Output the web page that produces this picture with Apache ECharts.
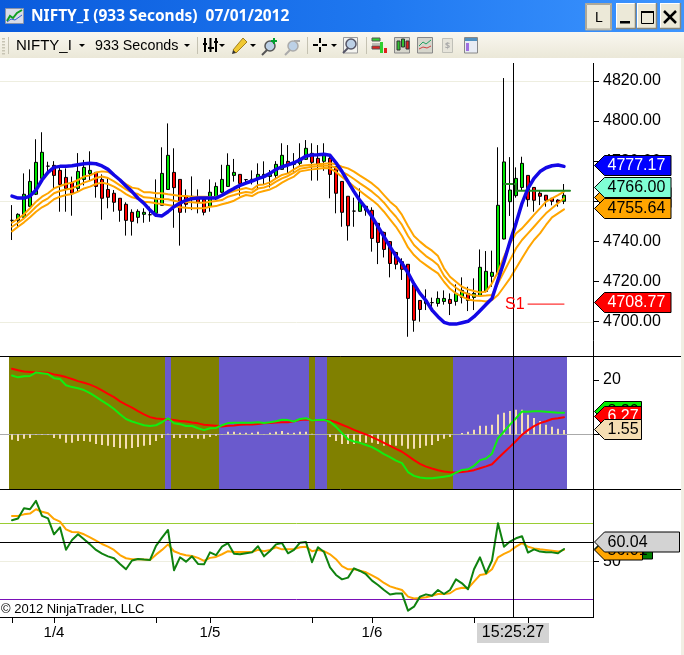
<!DOCTYPE html>
<html><head><meta charset="utf-8">
<style>html,body{margin:0;padding:0;background:#fff}#c{width:684px;height:655px}</style>
<script src="https://cdn.jsdelivr.net/npm/echarts@6/dist/echarts.min.js"></script>
</head><body><div id="c"></div>
<script>
const opens=[4750.5,4750.5,4752,4757.5,4763.5,4771.4,4777.5,4777.9,4775.4,4771.9,4769.4,4766.4,4770.9,4773.8,4774.4,4770.9,4765.9,4764,4761.5,4758.5,4754.5,4752,4753.5,4753.3,4754,4758,4765.9,4774.4,4770.9,4762.5,4761.5,4761.5,4761,4757.5,4762,4764.5,4767.4,4772.9,4773.4,4770.8,4770.9,4771.4,4772.3,4772.4,4772.9,4775.9,4779.9,4778.4,4778.9,4780.9,4783.9,4781.4,4779.9,4781.4,4777.2,4769.9,4762.5,4755.1,4755,4757.5,4755.5,4749,4744.5,4739.9,4734.5,4729.9,4728.6,4718.3,4710.6,4709.1,4709.5,4709.1,4710.1,4711.1,4710.1,4712.1,4714.1,4712.1,4713.1,4715.1,4722.6,4723.8,4741.2,4759.8,4762.8,4766.9,4772.9,4766.9,4764,4763,4761.5,4760.6,4760];
const closes=[4750.5,4753.5,4763.5,4769.9,4779.4,4784.4,4777.5,4772.9,4768.4,4766.4,4764,4774.9,4776.9,4775.4,4767.4,4761.5,4762,4759.5,4755.5,4750.5,4750,4755,4754.5,4753.3,4761.5,4773.9,4782.9,4766.8,4754.5,4758.5,4762.5,4759.5,4754.5,4764.5,4767.4,4770.9,4777.9,4774.4,4768.9,4770.8,4770.9,4773.4,4773.4,4773.4,4778.4,4782.9,4777.9,4779.4,4781.4,4786.4,4779.4,4778.4,4782.9,4773.4,4764,4754.5,4747.8,4755.1,4760,4755.5,4741.5,4739.5,4736,4729,4728.6,4726.1,4711.6,4700.7,4706.1,4710.6,4709.5,4711.6,4711.6,4709.1,4714.1,4715.6,4710.6,4714.1,4727.1,4725.1,4724.6,4758,4779.6,4765.6,4771.4,4778.9,4760.8,4760.5,4762.5,4760.5,4760,4759.5,4763];
const lows=[4740.7,4747.3,4751.5,4757.3,4763.1,4771.1,4774.8,4766.1,4754.8,4754.8,4752.8,4765.1,4767.9,4770.3,4761.8,4750.8,4756.5,4754.8,4749.8,4742.9,4742.9,4749,4749.3,4749.8,4753.7,4758,4765.9,4746.8,4737.9,4754.3,4755.6,4754,4753,4754.8,4760.6,4764,4767.3,4769.8,4762.8,4768.9,4768.4,4765.6,4768.1,4766.9,4771.4,4775.9,4773.9,4774.8,4777.2,4780.6,4770.3,4770.3,4775.2,4761.5,4754,4747.3,4740.4,4747.3,4754.8,4752.8,4734.9,4728.7,4732,4722.1,4726.1,4720.8,4692.5,4695,4700,4705.8,4705,4707.5,4708.5,4703.3,4708,4709.1,4705.3,4705.8,4712.8,4714.6,4717.4,4723.8,4741,4752.7,4761.8,4765.3,4757.3,4754.8,4758.1,4757.3,4758,4757.3,4758.6];
const highs=[4758.1,4754,4773.9,4775.9,4790.9,4794.4,4779.7,4780,4777.2,4776.4,4772.3,4784,4780.6,4784.9,4774.4,4773.4,4771.4,4765.6,4761.5,4759.5,4756,4756,4756.5,4757.3,4770.9,4786.9,4798.8,4786.4,4770.9,4765.9,4772.4,4765.9,4762,4770.9,4769.4,4778.2,4783.9,4781.1,4773.4,4770.9,4775.4,4778.9,4779.9,4775.6,4780,4788.9,4788,4784,4788.9,4790.5,4788.9,4788,4788.9,4783.4,4777.2,4769.9,4762.5,4761.8,4766.4,4757.6,4757,4749,4744.9,4740.2,4734.9,4731.6,4728.6,4719.1,4710.8,4716.1,4712,4715.1,4715.6,4714.1,4718.6,4722.1,4717.4,4721.6,4736,4735.2,4735.4,4786.9,4821.4,4782,4776.9,4782.2,4772.9,4766.9,4765.6,4763.1,4761.6,4761,4768.6];
const blueLine=[4762.6,4761.6,4761.6,4762.6,4765.6,4770.6,4774.4,4776.9,4777.4,4777.4,4777.7,4778.2,4778.7,4778.9,4778.7,4777.6,4775.9,4773.1,4770.6,4767.6,4764.8,4761.5,4759,4755.6,4753,4752.7,4754.8,4757.3,4759.1,4760.5,4761.3,4761.6,4761.6,4761.6,4761.6,4763,4764.8,4766.4,4767.9,4769.1,4770.1,4771.3,4772.3,4773.9,4775.9,4777.2,4778.1,4779.2,4780.6,4782.6,4783.1,4783.2,4783.4,4782.9,4779.2,4774.8,4769.8,4764.8,4760.3,4756.5,4752.3,4747.3,4742.4,4737.4,4732.7,4729.1,4724.4,4718.8,4714.1,4710.5,4705.8,4702.5,4699.7,4698.8,4698.8,4699.5,4700.2,4702.5,4705.5,4708.6,4711.6,4720.8,4729.9,4739.9,4749,4759,4766.4,4771.4,4774.8,4776.7,4777.7,4778.1,4777.4];
const orangeTop=[4749.3,4751.3,4753.5,4756.5,4759.8,4762.3,4764,4766.4,4767.6,4768.6,4769.3,4770.6,4772.3,4772.9,4774.3,4774.9,4774.6,4772.9,4770.6,4768.6,4766.8,4766.3,4764.5,4764.5,4764,4764,4763.5,4763.1,4762.6,4762.6,4762.3,4762.3,4762.3,4762.1,4762.1,4762.8,4764,4765.1,4765.9,4766.6,4765.8,4768.1,4768.4,4769.4,4771.4,4773.1,4773.9,4775.9,4777.6,4777.9,4778.2,4778.4,4778.7,4778.9,4778.4,4777.2,4776.4,4774.8,4772.8,4770.9,4768.9,4766.4,4763.1,4759.8,4757.3,4753.2,4747.7,4742.7,4739.9,4737.4,4735.4,4732.7,4726.6,4722.4,4719.9,4717.4,4716.1,4715.3,4714.6,4715.1,4719.1,4724.9,4732.4,4739,4744,4746.5,4749.8,4753.2,4756.5,4759.8,4761.5,4763.1,4764.8];
const orangeMid=[4747.3,4749.3,4751.5,4754.3,4757.3,4759.8,4761.5,4764,4765.1,4765.9,4766.4,4767.8,4769.3,4770.3,4771.6,4772.3,4771.6,4769.9,4767.9,4765.9,4764.3,4763.6,4762,4761.8,4761.3,4761.1,4761,4760.3,4759.6,4759.6,4759.5,4759.3,4759.3,4759.8,4760.1,4760.6,4762.3,4763.1,4764,4764.6,4764.3,4766.4,4766.9,4767.9,4769.8,4771.4,4772.6,4774.3,4776.2,4776.7,4777.2,4777.4,4777.7,4777.7,4776.7,4774.6,4773.1,4771.1,4768.9,4766.9,4764.8,4762.3,4759.3,4755.6,4752.3,4748.2,4742.7,4738.2,4735.4,4732.7,4730.7,4728.2,4722.9,4719.4,4716.9,4714.9,4713.8,4713,4712.8,4713,4713.3,4719.1,4724.9,4730.7,4736.5,4740.7,4744,4747.3,4750.7,4754,4756.5,4759,4761.5];
const orangeBot=[4745,4747.3,4749.5,4752,4754.8,4757,4758.6,4761,4762.3,4763.1,4763.6,4764.8,4766.4,4767.3,4768.6,4769.3,4768.6,4767.3,4765.6,4763.6,4762,4761.3,4759.8,4759.5,4759,4758.6,4758.1,4757.6,4757,4756.8,4756.5,4756.5,4756.5,4757.3,4757.6,4758.5,4759.3,4760.3,4762,4763.1,4762.6,4764.3,4765.1,4765.9,4767.3,4769.3,4770.9,4772.3,4774.9,4775.4,4775.9,4776.2,4776.6,4776.4,4774.6,4772.1,4769.8,4767.3,4765.1,4762.8,4760.6,4758.1,4754.8,4751,4747.3,4742.7,4737,4733.2,4730.4,4728.2,4726.1,4724.1,4719.9,4716.4,4714.1,4712.5,4711.1,4710.6,4710.5,4710.1,4710.8,4713.3,4717.4,4721.6,4726.6,4731.6,4736.5,4740.7,4744,4748.2,4752,4754,4756];
const levelR=[4768.6,4768.6,4765.2,4765.2,4765.2,4765.2,4765.2,4765.2,4765.2,4765.2,4765.2];
const levelS=[4708.77,4708.77,4708.77,4708.77,4708.77,4708.77,4708.77];
const macdBands=[0,0,0,0,0,0,0,0,0,0,0,0,0,0,0,0,0,0,0,0,0,0,0,0,0,0,1,0,0,0,0,0,0,0,0,1,1,1,1,1,1,1,1,1,1,1,1,1,1,1,0,1,1,0,0,0,0,0,0,0,0,0,0,0,0,0,0,0,0,0,0,0,0,0,1,1,1,1,1,1,1,1,1,1,1,1,1,1,1,1,1,1,1];
const macdHist=[-2.1,-2.5,-1.7,-1.4,-0.25,-0.2,-0.2,-1.4,-1.7,-3.2,-3.2,-2.5,-2.5,-2.8,-3.6,-4,-4.3,-4.7,-5.1,-5.4,-5.1,-4.7,-4.3,-4,-2.5,-1.4,0.2,-1.4,-1.4,-1.4,-1.4,-1.7,-1.7,-1,-0.6,-0.1,0.9,0.9,0.5,0.5,0.5,0.9,0.1,0.5,0.9,1.2,0.5,0.5,0.9,0.9,0.2,0,0,-1,-2.5,-3.6,-3.6,-3.6,-3.2,-3.2,-3.2,-3.6,-4.3,-4,-4.3,-4.3,-5.4,-5.4,-5.1,-4.3,-4,-2.5,-1.7,-1,0,0.4,0.9,1.6,3.1,3.1,3.5,7.3,7.9,8.6,9,9,7.2,6,4.9,3.5,2.7,2,1.55];
const macdFast=[21.7,21,21.4,21.5,22.8,22.5,22.2,20.7,20.4,18.1,17.4,17,16.3,15.2,13.8,12.3,10.9,9.3,7.4,5.6,4.7,4,3.3,3,3.3,4.4,5.9,4,3.7,3,3,2.2,1.5,2.2,2.3,3.3,4.1,4.2,4.2,4.2,4.2,4.4,4.1,4.4,4.8,5.3,5.2,4.7,5.6,5.9,5.1,5.2,5.3,4.6,2.7,0.4,-1.9,-2.7,-3.2,-4,-4.8,-6,-7.4,-8.5,-9.8,-10.7,-14,-15.4,-16,-16.3,-16.3,-16,-15.7,-15.4,-14.2,-13.2,-13,-11.7,-9.6,-9,-7.2,-1.5,1,3.5,5.9,8.4,8.3,8.5,8.5,8.3,8.1,7.9,7.9];
const macdSlow=[24.2,23.6,23.2,23,22.8,22.8,22.7,22.1,21.7,21.1,20.4,19.6,19,18.3,17.4,16.2,14.9,13.7,12.1,10.9,9.8,8.5,7.3,6.3,5.8,5.6,5.4,5.2,4.9,4.7,4.3,4,3.5,3.3,3.1,2.8,3.1,3.2,3.5,3.6,3.6,3.8,4,4.1,4.3,4.4,4.4,4.8,5.2,5.4,5.2,5.1,5.2,5.1,4.4,3.5,2.6,1.6,0.7,-0.1,-1.1,-2.1,-3.2,-4.3,-5.4,-6.5,-8,-9.6,-11,-12,-12.7,-13.3,-13.8,-14.1,-14.2,-14,-13.7,-13.3,-12.6,-11.9,-11.1,-8.9,-6.8,-4.7,-2.5,-0.2,1.5,3,4.1,4.8,5.6,5.9,6.27];
const rsiLine=[71.6,72.5,77.9,77.4,81.8,73.9,72.6,64.2,67.9,56.1,61.2,64.2,61.6,58.9,56,54,52.6,51.6,48.6,45.8,50.4,51.2,50.9,50.7,58.1,62.5,66.5,45.3,52.1,49.8,52.6,48.6,48.4,54.7,53.2,57.7,59.5,54,53.7,54.2,54.7,57.9,52.6,55.4,58.9,59.6,54.2,56,59.8,60.2,49.5,57.4,54.9,46.8,42.8,40.5,41.4,46.3,44.9,43.2,39.8,37.5,34.9,32.5,33,33,24,26.1,31.4,32.6,31.9,34.9,32.8,34.9,40.5,38.4,35.3,45.8,52.1,43.7,50.4,70,57.7,60.4,62.1,63.2,54.6,56.3,55.1,54.7,54.7,54.2,56.5];
const rsiAvg=[73.9,73.9,74.7,75.1,77.4,76.1,75.3,72.3,70.9,66.8,65.4,65.3,64.2,62.6,60.9,59.1,57.7,56,53.3,51.6,51.1,51.1,50.9,50.7,53.5,56,58.9,55.3,54,53.2,52.8,51.8,50.2,51.8,52.3,53.7,55.3,54.9,54.9,54.9,54.9,56,55.3,56,57.4,56.3,56.3,56.5,57.4,57.7,55.3,56,55.4,53.7,51.1,47.5,45.8,45.8,45.1,44.2,42.6,40.9,38.6,36.8,35.8,34.9,31.4,30.4,30.7,31.1,31.9,32.8,32.8,33.2,35.3,36.1,35.8,39.3,42.8,43.3,45.8,52.1,53.9,55.4,57.7,59.5,57.7,56.8,56.3,56,55.6,55.1,56];
const priceTicks=[4700,4720,4740,4760,4780,4800,4820];
const priceGrid=[4700,4760,4820];
const macdTicks=[0,20];
const rsiTicks=[50];
const rsiLevels=[[70,'#9acd32'],[50,'#eeeee0'],[30,'#7a0fb8']];
const timeTicks=[0,7,24,33,50,60,77,86];
const dayLabels={7:'1/4',33:'1/5',60:'1/6'};
const priceTags=[[4761,'4761.34','#ffa500','#000'],[4777.17,'4777.17','#0000ff','#fff'],[4755.64,'4755.64','#ffa500','#000'],[4766,'4766.00','#7fffd4','#000'],[4708.77,'4708.77','#ff0000','#fff']];
const macdTags=[[8.2,'8.20','#00ee00','#000'],[6.27,'6.27','#ff0000','#fff'],[1.55,'1.55','#f5deb3','#000']];
const rsiTags=[[56.5,'56.47','#008000','#fff',58],[56,'56.01','#ffa500','#000',48],[60.04,'60.04','#d3d3d3','#000',85]];
const crossIdx=[83,84], crossRsi=60.04, crossTime='15:25:27';

const PAD=1, TAIL=4, N=PAD+opens.length+TAIL;
const cats=Array.from({length:N},(_,k)=>String(k));
const pad=a=>[...Array(PAD).fill(null),...a,...Array(TAIL).fill(null)];
const from=(start,a)=>{const o=Array(N).fill(null);a.forEach((v,k)=>o[PAD+start+k]=v);return o;};
const EMPTY=['-','-','-','-'];
const ohlc=[...Array(PAD).fill(EMPTY),...opens.map((o,i)=>[o,closes[i],lows[i],highs[i]]),...Array(TAIL).fill(EMPTY)];
const FONT='"Liberation Sans",Arial,sans-serif';
const line=(name,data,color,width,x,y,z,extra)=>Object.assign({name,type:'line',data,xAxisIndex:x,yAxisIndex:y,symbol:'none',showSymbol:false,silent:true,z:z||3,lineStyle:{color,width,cap:'round',join:'round'},animation:false},extra||{});
const hideX=g=>({type:'category',gridIndex:g,data:cats,show:false,boundaryGap:true});
const yA=(g,min,max,ticks,fmt)=>({type:'value',gridIndex:g,min,max,position:'right',offset:2,splitLine:{show:false},axisLine:{show:false},axisTick:{show:true,length:6,lineStyle:{color:'#000'},customValues:ticks},axisLabel:{show:true,margin:10,color:'#000',fontSize:16,fontFamily:FONT,customValues:ticks,formatter:fmt}});

const chart=echarts.init(document.getElementById('c'),null,{renderer:'canvas'});
chart.setOption({
 animation:false,backgroundColor:'#fff',
 grid:[{left:3,width:588,top:63,height:293},{left:3,width:588,top:356,height:133},{left:3,width:588,top:489,height:128}],
 xAxis:[hideX(0),hideX(1),{type:'category',gridIndex:2,data:cats,boundaryGap:true,axisLine:{show:false},
  axisTick:{show:true,alignWithLabel:true,length:6,lineStyle:{color:'#000'},interval:i=>timeTicks.includes(i-PAD)},
  axisLabel:{show:true,interval:i=>(i-PAD) in dayLabels,formatter:(v,i)=>dayLabels[Number(v)-PAD]||'',margin:8,fontSize:15,color:'#000',fontFamily:FONT}}],
 yAxis:[yA(0,4682.91,4828.9,priceTicks,v=>v.toFixed(2)),yA(1,-20.26,28.89,macdTicks,v=>String(v)),
  {type:'value',gridIndex:1,min:0,max:1,show:false},yA(2,20.68,88.05,rsiTicks,v=>String(v))],
 series:[
  {name:'Price',type:'candlestick',data:ohlc,xAxisIndex:0,yAxisIndex:0,barWidth:4,silent:true,z:2,
   itemStyle:{color:'#00e600',color0:'#ff0000',borderColor:'#000',borderColor0:'#000',borderColorDoji:'#000',borderWidth:1}},
  line('Band top',pad(orangeTop),'#ffa500',2,0,0,3),
  line('Band mid',pad(orangeMid),'#ffa500',2,0,0,3),
  line('Band bottom',pad(orangeBot),'#ffa500',2,0,0,3),
  line('R1',from(82,levelR),'#228b22',2,0,0,3,{step:'end'}),
  line('S1',from(86,levelS),'#ff0000',1,0,0,3),
  line('Blue MA',pad(blueLine),'#1408e6',3.5,0,0,4),
  {name:'Trend',type:'custom',xAxisIndex:1,yAxisIndex:2,z:0,silent:true,clip:true,
   data:macdBands.map((b,i)=>[i+PAD,b]),encode:{x:0,y:-1},
   renderItem:(p,api)=>{const xi=api.value(0),c=api.coord([xi,1]),b=api.coord([xi,0]),w=api.size([1,0])[0];
     return {type:'rect',shape:{x:c[0]-w/2,y:c[1],width:w,height:b[1]-c[1]},style:{fill:api.value(1)?'#6a5acd':'#808000'}};}},
  {name:'Hist',type:'bar',data:pad(macdHist),xAxisIndex:1,yAxisIndex:1,barWidth:2,silent:true,z:3,itemStyle:{color:'#f5deb3'}},
  line('Slow',pad(macdSlow),'#ff0000',2,1,1,4),
  line('Fast',pad(macdFast),'#10ee10',2,1,1,5),
  line('RSI avg',pad(rsiAvg),'#ffa500',2,2,3,3),
  line('RSI',pad(rsiLine),'#0f820f',2,2,3,4)
 ]});

const yPx=(k,v)=>chart.convertToPixel({yAxisIndex:k},v);
const xPx=i=>chart.convertToPixel({xAxisIndex:0},PAD+i);
const rect=(x,y,w,h,fill,z,stroke)=>({type:'rect',silent:true,z:z||60,shape:{x,y,width:w,height:h},style:{fill:fill,stroke:stroke||null,lineWidth:1}});
const seg=(x1,y1,x2,y2,c,z,lw)=>({type:'line',silent:true,z:z||60,shape:{x1,y1,x2,y2},style:{stroke:c,lineWidth:lw||1}});
const poly=(pts,c,lw,z)=>({type:'polyline',silent:true,z:z||61,shape:{points:pts},style:{stroke:c,lineWidth:lw||1,fill:null}});
const pgon=(pts,f,z,st)=>({type:'polygon',silent:true,z:z||61,shape:{points:pts},style:{fill:f,stroke:st||null,lineWidth:1}});
const txt=(t,x,y,fs,c,o)=>Object.assign({type:'text',silent:true,z:62,x,y,style:Object.assign({text:t,fontSize:fs,fill:c,fontFamily:FONT,textVerticalAlign:'middle',textBaseline:'middle',textAlign:'left'},o||{})},{});
const snap=v=>Math.round(v)+0.5;
const G=[];
priceGrid.forEach(v=>{const y=snap(yPx(0,v));G.push(seg(0,y,593,y,'#eeeee0',1));});
const zy=snap(yPx(1,0));G.push(seg(0,zy,593,zy,'#aaaaaa',2));
rsiLevels.forEach(([v,c])=>{const y=snap(yPx(3,v));G.push(seg(0,y,593,y,c,1));});
const xc=(xPx(crossIdx[0])+xPx(crossIdx[1]))/2, cx=Math.round(xc)+0.5;
const ry=snap(yPx(3,crossRsi));G.push(seg(0,ry,593,ry,'#000',20));
G.push(seg(cx,63,cx,617,'#000',20));
G.push(txt('S1',xPx(86)-23,yPx(0,levelS[0]),16,'#ff0000'));
G.push(seg(593.5,63,593.5,617.5,'#000',30));
G.push(seg(0,356.5,681,356.5,'#000',30));
G.push(seg(0,489.5,681,489.5,'#000',30));
G.push(seg(0,617.5,594,617.5,'#000',30));
const tag=(py,t,f,tc,w,z)=>{const L=594.5,R=L+w,c=py;
  G.push(pgon([[L,c],[L+10,c-10],[R,c-10],[R,c+10],[L+10,c+10]],f,z,'#000'));
  G.push(Object.assign(txt(t,L+13,c+0.5,16,tc),{z:z+1}));};
priceTags.forEach(([v,t,f,tc],i)=>tag(Math.round(yPx(0,v))-1.5,t,f,tc,76.5,70+i*2));
macdTags.forEach(([v,t,f,tc],i)=>tag(Math.round(yPx(1,v))-0.5,t,f,tc,47,70+i*2));
rsiTags.forEach(([v,t,f,tc,w],i)=>tag(Math.round(yPx(3,v)),t,f,tc,w,70+i*2));
G.push(rect(477,623,72,20,'#d3d3d3',60));
G.push(txt(crossTime,513,633,16,'#000',{textAlign:'center'}));
G.push(txt('\u00a9 2012 NinjaTrader, LLC',1,609,13,'#000'));
G.push({type:'rect',silent:true,z:90,shape:{x:0,y:0,width:684,height:32},style:{fill:new echarts.graphic.LinearGradient(0,0,1,0,[{offset:0,color:'#0a5bdc'},{offset:.55,color:'#1f78f0'},{offset:1,color:'#3d95ff'}])}});
G.push({type:'rect',silent:true,z:90,shape:{x:0,y:32,width:684,height:26},style:{fill:new echarts.graphic.LinearGradient(0,0,0,1,[{offset:0,color:'#f9f7f0'},{offset:1,color:'#ebe8d8'}])}});
G.push(rect(681,58,3,597,'#f1efe4',90));
const C=95;
const T=(t,x,y,fs,c,o)=>Object.assign(txt(t,x,y,fs,c,Object.assign({fontFamily:'"Noto Sans",sans-serif'},o||{})),{z:C});
const R=(x,y,w,h,f,st)=>rect(x,y,w,h,f,C,st);
const S=(a,b,c,d,col,lw)=>seg(a,b,c,d,col,C,lw);
const P=(p,c,lw)=>poly(p,c,lw,C);
const D=(x,y)=>pgon([[x,y],[x+6,y],[x+3,y+3]],'#000',C);
G.push(T('NIFTY_I (933 Seconds)  07/01/2012',31,17,15.5,'#fff',{fontWeight:'bold'}));
G.push(R(5.5,8.5,18,15,'#d8dce8','#8a93a8'),P([[7,21],[10,16],[13,18],[17,13],[22,10]],'#10a020',2),P([[7,22],[11,19],[15,20],[22,15]],'#3060d0',1));
const btn=(x,y,w,h)=>{G.push(R(x,y,w,h,'#ece9d8'));G.push(S(x,y+.5,x+w,y+.5,'#fff'),S(x+.5,y,x+.5,y+h,'#fff'),S(x,y+h-.5,x+w,y+h-.5,'#8a8778',1.5),S(x+w-.5,y,x+w-.5,y+h,'#8a8778',1.5));};
G.push(R(585.5,3.5,26,26.5,'#ece9d8','#aca899'),R(586.5,4.5,24,24.5,'#ece9d8','#aca899'),T('L',595,18,14,'#000',{fontFamily:FONT}));
btn(616,3,20,26);btn(637,3,20,26);btn(660,3,21,26);
G.push(R(620,21,10,2.5,'#000'),R(641.5,11.5,12,12,'#ece9d8','#000'),S(641,12,654,12,'#000',2));
G.push(S(664,11,676,23,'#000',2.5),S(676,11,664,23,'#000',2.5));
for(let y=38;y<54;y+=3)G.push(R(2,y,3,1.5,'#c8c5b4'));
G.push(S(8.5,37,8.5,54,'#c5c2b2'));
G.push(T('NIFTY_I',16,46,15,'#000',{fontFamily:FONT}),T('933 Seconds',95,46,14.3,'#000',{fontFamily:FONT}));
G.push(D(79,44),D(184,44));
G.push(S(197.5,37,197.5,54,'#c5c2b2'));
G.push(S(205,38,205,52,'#000',2),R(203,43,4,2,'#000'),S(210.5,38,210.5,52,'#000',2),R(208,47,6,2,'#000'),S(216,38,216,52,'#000',2),R(214,41,4,2,'#000'),D(219,44));
G.push(pgon([[233,50],[236,53],[247,42],[243,38]],'#f0c832',C,'#a08020'),pgon([[232,54],[233,50],[236,53]],'#333',C),D(250,44));
const mag=(x,y,col,plus,minus)=>{G.push({type:'circle',silent:true,z:C,shape:{cx:x,cy:y,r:5},style:{fill:'#bcd0e6',stroke:col,lineWidth:1.5}},S(x-3,y+4,x-8,y+9,col,2));
 if(plus)G.push(S(plus[0]-3,plus[1],plus[0]+3,plus[1],'#00a030',2),S(plus[0],plus[1]-3,plus[0],plus[1]+3,'#00a030',2));
 if(minus)G.push(S(minus[0]-3,minus[1],minus[0]+3,minus[1],'#aaa',2));};
mag(270,46,'#555',[274,41]);mag(293,46,'#aaa',null,[297,41]);
G.push(S(307.5,37,307.5,54,'#c5c2b2'));
G.push(S(313,45,318,45,'#000',2),S(322,45,327,45,'#000',2),S(320,38,320,43,'#000',2),S(320,47,320,52,'#000',2),D(331,44));
G.push(R(343.5,37.5,14,15.5,'#f4f4f0','#999'));mag(351,44,'#556');
G.push(S(366.5,37,366.5,54,'#c5c2b2'));
G.push(R(372,38,8,3,'#30d030','#555'),R(372,46,8,3,'#e02020','#555'),R(380,42,3,11,'#30d030'),R(384,48,3,5,'#e02020'),S(372,44,380,44,'#888'));
G.push(R(394.5,37.5,15,15.5,'#d6d6cc','#888'),R(397,41,3,9,'#30c030','#333'),R(401.5,39,3,8,'#30c030','#333'),R(406,41,3,8,'#e02020','#333'));
G.push(R(417.5,37.5,15,15.5,'#d6d6cc','#888'),P([[419,46],[423,42],[426,44],[431,40]],'#20a060',1),P([[419,49],[423,47],[427,48],[431,46]],'#d04040',1));
G.push(R(442.5,38.5,10,14,'#e6e4da','#c0c0b8'),T('$',445,46,9,'#aaa',{fontWeight:'bold'}));
G.push(R(464.5,37.5,13,15.5,'#e8ecf4','#888'),R(465,38,12,3,'#5090c0'),R(466,43,3,8,'#a070e0'));
chart.setOption({graphic:{elements:G}});
</script></body></html>
